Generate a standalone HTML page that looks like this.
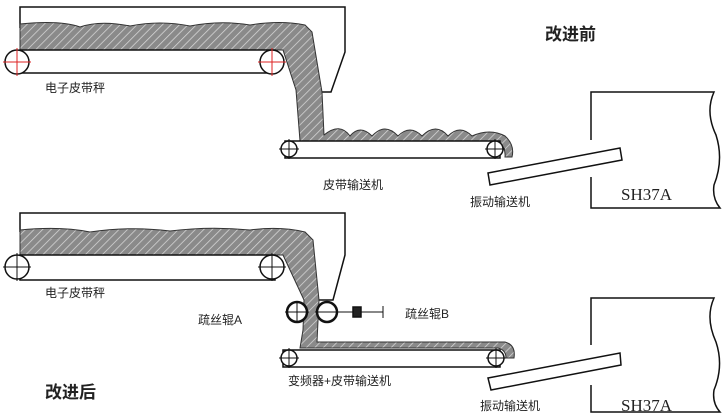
<!DOCTYPE html>
<html><head><meta charset="utf-8"><style>
html,body{margin:0;padding:0;background:#fff;}
svg{display:block;}
text{font-family:"Liberation Sans","Noto Sans CJK SC",sans-serif;fill:#222;}
text.s{font-family:"Liberation Serif",serif;}
</style></head><body>
<svg width="723" height="414" viewBox="0 0 723 414" xmlns="http://www.w3.org/2000/svg">
<defs>
<pattern id="h" width="6" height="6" patternUnits="userSpaceOnUse" patternTransform="rotate(45)">
<rect width="6" height="6" fill="#8a8a8a"/>
<line x1="0" y1="0" x2="0" y2="6" stroke="#d8d8d8" stroke-width="1.5"/>
</pattern>
</defs>
<g stroke="#111" stroke-width="1.5" fill="none">
<!-- TOP -->
<path d="M20,28 V7 H345 V52 L331,92 H318"/>
<path fill="url(#h)" stroke="#333" stroke-width="1" d="M20,24 Q60,20 80,27 Q100,20 130,26 Q160,20 190,26 Q220,20 250,25 Q280,20 305,25 L312,32 L322,92 L324,135 Q340,122 350,136 Q360,124 372,136 Q385,122 398,136 Q410,124 422,136 Q436,122 448,136 Q460,124 472,136 Q490,128 505,136 Q515,145 512,157 L505,157 Q506,148 498,141 L300,141 L296,90 L283,50 L20,50 Z"/>
<rect x="20" y="50" width="255" height="23" fill="#fff"/>
<circle cx="17" cy="62" r="12" fill="#fff"/>
<circle cx="272" cy="62" r="12" fill="#fff"/>
<path stroke="#d22" stroke-width="1" d="M3,62 H31 M17,48 V76 M258,62 H286 M272,48 V76"/>
<rect x="285" y="141" width="215" height="17" fill="#fff"/>
<circle cx="289" cy="149" r="8" fill="#fff"/>
<circle cx="495" cy="149" r="8" fill="#fff"/>
<path stroke-width="1" d="M279,149 H299 M289,139 V159 M485,149 H505 M495,139 V159"/>
<polygon points="488,173 620,148 622,160 490,185" fill="#fff"/>
<path d="M591,140 V92 H714 Q705,112 716,135 Q724,160 714,185 Q712,198 720,208 H591 V177"/>
<!-- BOTTOM -->
<path d="M20,232 V213 H345 V255 L333,300 H318"/>
<path fill="url(#h)" stroke="#333" stroke-width="1" d="M20,230 Q60,226 90,232 Q130,226 170,231 Q210,226 250,230 Q280,226 305,232 L313,240 L319,300 L317,342 H505 Q516,345 514,358 L506,358 Q506,350 498,348 L300,348 L303,330 L304,300 L283,255 L20,255 Z"/>
<rect x="20" y="255" width="255" height="25" fill="#fff"/>
<circle cx="17" cy="267" r="12" fill="#fff"/>
<circle cx="272" cy="267" r="12" fill="#fff"/>
<path stroke-width="1" d="M3,267 H31 M17,253 V281 M258,267 H286 M272,253 V281"/>
<circle cx="297" cy="312" r="10" fill="#fff" stroke-width="2.5"/>
<circle cx="327" cy="312" r="10" fill="#fff" stroke-width="2.5"/>
<path stroke-width="1" d="M285,312 H309 M297,302 V322 M315,312 H383 M383,306 V318"/>
<rect x="353" y="307" width="8" height="10" fill="#222"/>
<rect x="283" y="350" width="217" height="17" fill="#fff"/>
<circle cx="289" cy="358" r="8" fill="#fff"/>
<circle cx="496" cy="358" r="8" fill="#fff"/>
<path stroke-width="1" d="M279,358 H299 M289,348 V368 M486,358 H506 M496,348 V368"/>
<polygon points="488,378 620,353 621,365 491,390" fill="#fff"/>
<path d="M591,345 V298 H714 Q705,318 716,342 Q724,366 714,390 Q712,403 720,412 H591 V385"/>
</g>
<g font-size="12">
<text x="45" y="92">电子皮带秤</text>
<text x="323" y="189">皮带输送机</text>
<text x="470" y="206">振动输送机</text>
<text x="45" y="297">电子皮带秤</text>
<text x="198" y="324">疏丝辊A</text>
<text x="405" y="318">疏丝辊B</text>
<text x="288" y="385">变频器+皮带输送机</text>
<text x="480" y="410">振动输送机</text>
</g>
<text class="s" x="621" y="200" font-size="17">SH37A</text>
<text class="s" x="621" y="411" font-size="17">SH37A</text>
<text x="545" y="40" font-size="17" font-weight="bold">改进前</text>
<text x="45" y="398" font-size="17" font-weight="bold">改进后</text>
</svg>
</body></html>
